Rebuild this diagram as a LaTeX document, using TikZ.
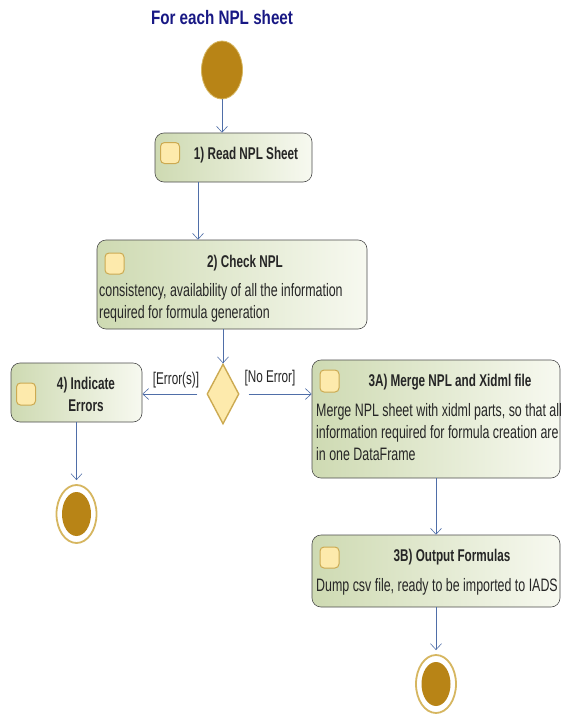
\documentclass[tikz,border=0pt]{standalone}
\usepackage{fontspec}
\setmainfont{Liberation Sans}[FakeStretch=0.69]
\newfontfamily\headfont{Liberation Sans}[FakeStretch=0.78]
\usetikzlibrary{arrows.meta, shapes.geometric, positioning}
\definecolor{flowblue}{RGB}{79,110,168}
\definecolor{startbrown}{RGB}{184,132,22}
\definecolor{ringgold}{RGB}{214,182,96}
\definecolor{boxgreen}{RGB}{206,218,178}
\definecolor{boxwhite}{RGB}{247,249,240}
\definecolor{iconfill}{RGB}{253,234,172}
\definecolor{iconedge}{RGB}{204,170,82}
\definecolor{titleblue}{RGB}{24,24,132}
\definecolor{inktext}{RGB}{38,38,38}
\tikzstyle{action} = [rectangle, draw=black!70, rounded corners=9pt, left color=boxgreen, right color=boxwhite, line width=0.6pt, inner sep=0pt]
\tikzstyle{actionicon} = [rectangle, draw=iconedge, fill=iconfill, rounded corners=4pt, line width=1pt, minimum width=19pt, minimum height=21pt, inner sep=0pt]
\tikzstyle{acttitle} = [font=\bfseries\fontsize{17}{22}\selectfont, text=inktext, inner sep=0pt, align=center]
\tikzstyle{actbody} = [font=\fontsize{18}{22}\selectfont, text=inktext, inner sep=0pt, align=left, anchor=west]
\tikzstyle{guard} = [font=\fontsize{17}{18}\selectfont, text=inktext, inner sep=0pt]
\tikzstyle{flow} = [draw=flowblue, line width=0.6pt, -{Straight Barb[length=6pt, width=11pt]}]
\tikzstyle{finalring} = [ellipse, draw=ringgold, line width=1.8pt, fill=white, minimum width=40pt, minimum height=58pt, inner sep=0pt]
\tikzstyle{finaldot} = [ellipse, fill=startbrown, minimum width=29pt, minimum height=44pt, inner sep=0pt]
\begin{document}
\begin{tikzpicture}[x=1pt, y=-1pt]

        \useasboundingbox[fill=white] (0, 0) rectangle (563, 715);

        \node[font=\headfont\bfseries\fontsize{19.5}{22}\selectfont, text=titleblue] (title) at (222, 18) {For each NPL sheet};
        \node[ellipse, fill=startbrown, draw=ringgold, line width=0.8pt, minimum width=41pt, minimum height=58pt, inner sep=0pt] (start) at (222, 70) {};

        \node[action, minimum width=157pt, minimum height=49pt] (read) at (233.5, 157.5) {};
        \node[actionicon] (readIcon) at (170, 153) {};
        \node[acttitle] (readTitle) at (246, 155) {1) Read NPL Sheet};

        \node[action, minimum width=270pt, minimum height=89pt] (check) at (232, 284.5) {};
        \node[actionicon] (checkIcon) at (114.5, 263.5) {};
        \node[acttitle] (checkTitle) at (245, 263) {2) Check NPL};
        \node[actbody] (checkBody) at (99, 302.5) {consistency, availability of all the information\\required for formula generation};

        \node[diamond, draw=iconedge, fill=iconfill, line width=1.4pt, minimum width=32pt, minimum height=60pt, inner sep=0pt] (decide) at (223, 394) {};
        \node[guard] (errLabel) at (176, 380) {[Error(s)]};
        \node[guard] (okLabel) at (270, 378) {[No Error]};

        \node[action, minimum width=131pt, minimum height=59pt] (indicate) at (76.5, 392.5) {};
        \node[actionicon, minimum height=22pt] (indicateIcon) at (26, 394) {};
        \node[acttitle] (indicateTitle) at (86, 394) {4) Indicate\\Errors};

        \node[action, minimum width=248pt, minimum height=118pt] (merge) at (436, 419) {};
        \node[actionicon, minimum height=22pt] (mergeIcon) at (329.5, 381) {};
        \node[acttitle] (mergeTitle) at (450, 382) {3A) Merge NPL and Xidml file};
        \node[actbody] (mergeBody) at (316, 432) {Merge NPL sheet with xidml parts, so that all\\information required for formula creation are\\in one DataFrame};

        \node[action, minimum width=248pt, minimum height=72pt] (output) at (436, 571) {};
        \node[actionicon] (outputIcon) at (329.5, 557.5) {};
        \node[acttitle] (outputTitle) at (452, 557) {3B) Output Formulas};
        \node[actbody] (outputBody) at (316, 587) {Dump csv file, ready to be imported to IADS};

        \node[finalring] (endLeft) at (76.5, 514) {};
        \node[finaldot] (endLeftDot) at (76.5, 514) {};
        \node[finalring] (endRight) at (436, 684) {};
        \node[finaldot] (endRightDot) at (436, 684) {};

        \draw[flow] (start) -- (start |- read.north);
        \draw[flow] ([xshift=-35.5pt]read.south) -- ([xshift=-35.5pt]read.south |- check.north);
        \draw[flow] ([xshift=-9pt]check.south) -- (decide.north);
        \draw[flow, shorten <=9pt] (decide.west) -- (decide.west -| indicate.east);
        \draw[flow, shorten <=9pt] (decide.east) -- (decide.east -| merge.west);
        \draw[flow, shorten >=4pt] (indicate) -- (endLeft);
        \draw[flow] (merge) -- (output);
        \draw[flow, shorten >=4pt] (output) -- (endRight);

    \end{tikzpicture}
\end{document}
